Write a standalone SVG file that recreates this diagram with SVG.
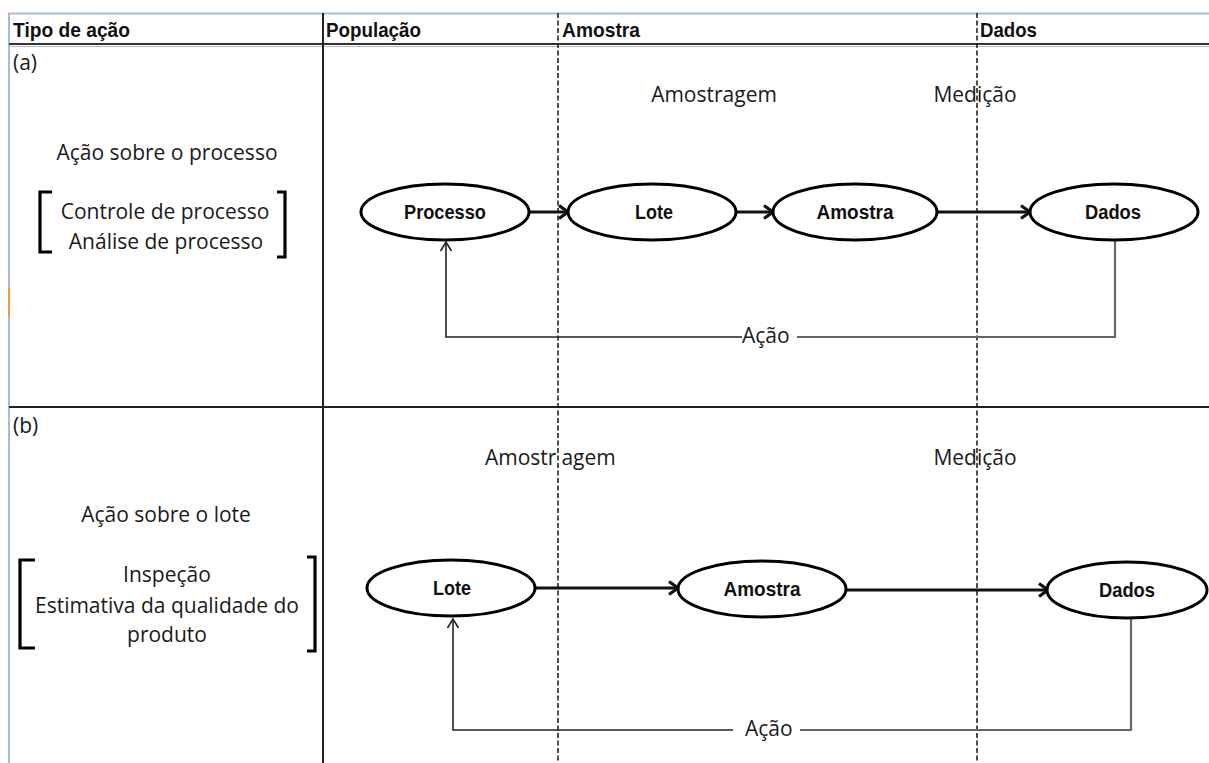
<svg xmlns="http://www.w3.org/2000/svg" width="1209" height="763" viewBox="0 0 1209 763">
<style>
.reg{font-family:"Open Sans","Liberation Sans",sans-serif;font-size:21px;fill:#1a1a1a}
.hdr{font-family:"Liberation Sans",Arial,sans-serif;font-size:21px;font-weight:bold;fill:#111}
.lbl{font-family:"Liberation Sans",Arial,sans-serif;font-size:20.5px;font-weight:bold;fill:#111;text-anchor:middle}
.mid{text-anchor:middle}
.node{fill:#fff;stroke:#000;stroke-width:3}
.flow{fill:none;stroke:#111;stroke-width:3.2;marker-end:url(#chev)}
.back{fill:none;stroke:#222;stroke-width:1.6;marker-end:url(#thin)}
.backg{fill:none;stroke:#666;stroke-width:2.2}
.brk{fill:none;stroke:#000;stroke-width:3.2}
.dash{stroke:#222;stroke-width:1.6;stroke-dasharray:5 2.5}
</style>
<defs>
<marker id="chev" markerUnits="userSpaceOnUse" markerWidth="16" markerHeight="16" viewBox="0 0 16 16" refX="13" refY="8" orient="auto">
<path d="M4,1.5 L13,8 L4,14.5" fill="none" stroke="#111" stroke-width="3.2"/>
</marker>
<marker id="thin" markerUnits="userSpaceOnUse" markerWidth="14" markerHeight="14" viewBox="0 0 14 14" refX="12" refY="7" orient="auto">
<path d="M3,1.5 L12,7 L3,12.5" fill="none" stroke="#222" stroke-width="1.6"/>
</marker>
</defs>
<rect width="1209" height="763" fill="#fff"/>
<g id="table">
<line x1="8" y1="13.5" x2="1209" y2="13.5" stroke="#a7bcd9" stroke-width="2"/>
<line x1="9" y1="13" x2="9" y2="763" stroke="#a7bcd9" stroke-width="2"/>
<line x1="9" y1="287" x2="9" y2="317" stroke="#f79646" stroke-width="2"/>
<line x1="9" y1="44" x2="1209" y2="44" stroke="#333" stroke-width="2"/>
<line x1="9" y1="46.5" x2="1209" y2="46.5" stroke="#bbb" stroke-width="1"/>
<line x1="9" y1="407" x2="1209" y2="407" stroke="#222" stroke-width="2"/>
<line x1="323" y1="13" x2="323" y2="763" stroke="#222" stroke-width="2"/>
<line class="dash" x1="558" y1="13" x2="558" y2="763"/>
<line class="dash" x1="977" y1="13" x2="977" y2="763"/>
<text class="hdr" x="13" y="37" textLength="117" lengthAdjust="spacingAndGlyphs">Tipo de ação</text>
<text class="hdr" x="326" y="37" textLength="95" lengthAdjust="spacingAndGlyphs">População</text>
<text class="hdr" x="562" y="37" textLength="78" lengthAdjust="spacingAndGlyphs">Amostra</text>
<text class="hdr" x="980" y="37" textLength="57" lengthAdjust="spacingAndGlyphs">Dados</text>
</g>
<g id="row-a">
<text class="reg" x="13" y="70">(a)</text>
<text class="reg mid" x="714" y="102">Amostragem</text>
<text class="reg mid" x="975" y="102">Medição</text>
<text class="reg mid" x="167" y="160">Ação sobre o processo</text>
<text class="reg mid" x="165" y="219">Controle de processo</text>
<text class="reg mid" x="166" y="249">Análise de processo</text>
<path class="brk" d="M52,192 H40 V252 H52"/>
<path class="brk" d="M277,192 H285 V257 H277"/>
</g>
<g id="row-b">
<text class="reg" x="13" y="433">(b)</text>
<text class="reg" x="485" y="465">Amostr<tspan dx="5">agem</tspan></text>
<text class="reg mid" x="975" y="465">Medição</text>
<text class="reg mid" x="166" y="522">Ação sobre o lote</text>
<text class="reg mid" x="167" y="582">Inspeção</text>
<text class="reg mid" x="167" y="613">Estimativa da qualidade do</text>
<text class="reg mid" x="167" y="642">produto</text>
<path class="brk" d="M35,560 H20 V648 H35"/>
<path class="brk" d="M307,557 H315 V651 H307"/>
</g>
<g id="connectors">
<line class="flow" x1="530" y1="212" x2="568" y2="212"/>
<line class="flow" x1="737" y1="212" x2="773" y2="212"/>
<line class="flow" x1="937" y1="212" x2="1030" y2="212"/>
<path class="backg" d="M1115,241 V337 H797"/>
<path class="back" d="M742,337 H446 V242"/>
<text class="reg" x="742" y="343">Ação</text>
<line class="flow" x1="535" y1="588" x2="678" y2="588"/>
<line class="flow" x1="847" y1="590" x2="1048" y2="590"/>
<path class="backg" d="M1131,618 V730 H800"/>
<path class="back" d="M733,730 H453 V619"/>
<text class="reg" x="745" y="736">Ação</text>
</g>
<g id="node-processo"><ellipse class="node" cx="445" cy="212" rx="84" ry="28"/><text class="lbl" x="445" y="219" textLength="82" lengthAdjust="spacingAndGlyphs">Processo</text></g>
<g id="node-lote-a"><ellipse class="node" cx="652" cy="212" rx="84" ry="28"/><text class="lbl" x="654" y="219" textLength="38" lengthAdjust="spacingAndGlyphs">Lote</text></g>
<g id="node-amostra-a"><ellipse class="node" cx="855" cy="212" rx="82" ry="28"/><text class="lbl" x="855" y="219" textLength="77" lengthAdjust="spacingAndGlyphs">Amostra</text></g>
<g id="node-dados-a"><ellipse class="node" cx="1114" cy="212" rx="84" ry="28"/><text class="lbl" x="1113" y="219" textLength="56" lengthAdjust="spacingAndGlyphs">Dados</text></g>
<g id="node-lote-b"><ellipse class="node" cx="451" cy="588" rx="84" ry="28"/><text class="lbl" x="452" y="595" textLength="38" lengthAdjust="spacingAndGlyphs">Lote</text></g>
<g id="node-amostra-b"><ellipse class="node" cx="762" cy="589" rx="84" ry="28"/><text class="lbl" x="762" y="596" textLength="77" lengthAdjust="spacingAndGlyphs">Amostra</text></g>
<g id="node-dados-b"><ellipse class="node" cx="1127" cy="590" rx="80" ry="28"/><text class="lbl" x="1127" y="597" textLength="56" lengthAdjust="spacingAndGlyphs">Dados</text></g>
</svg>
